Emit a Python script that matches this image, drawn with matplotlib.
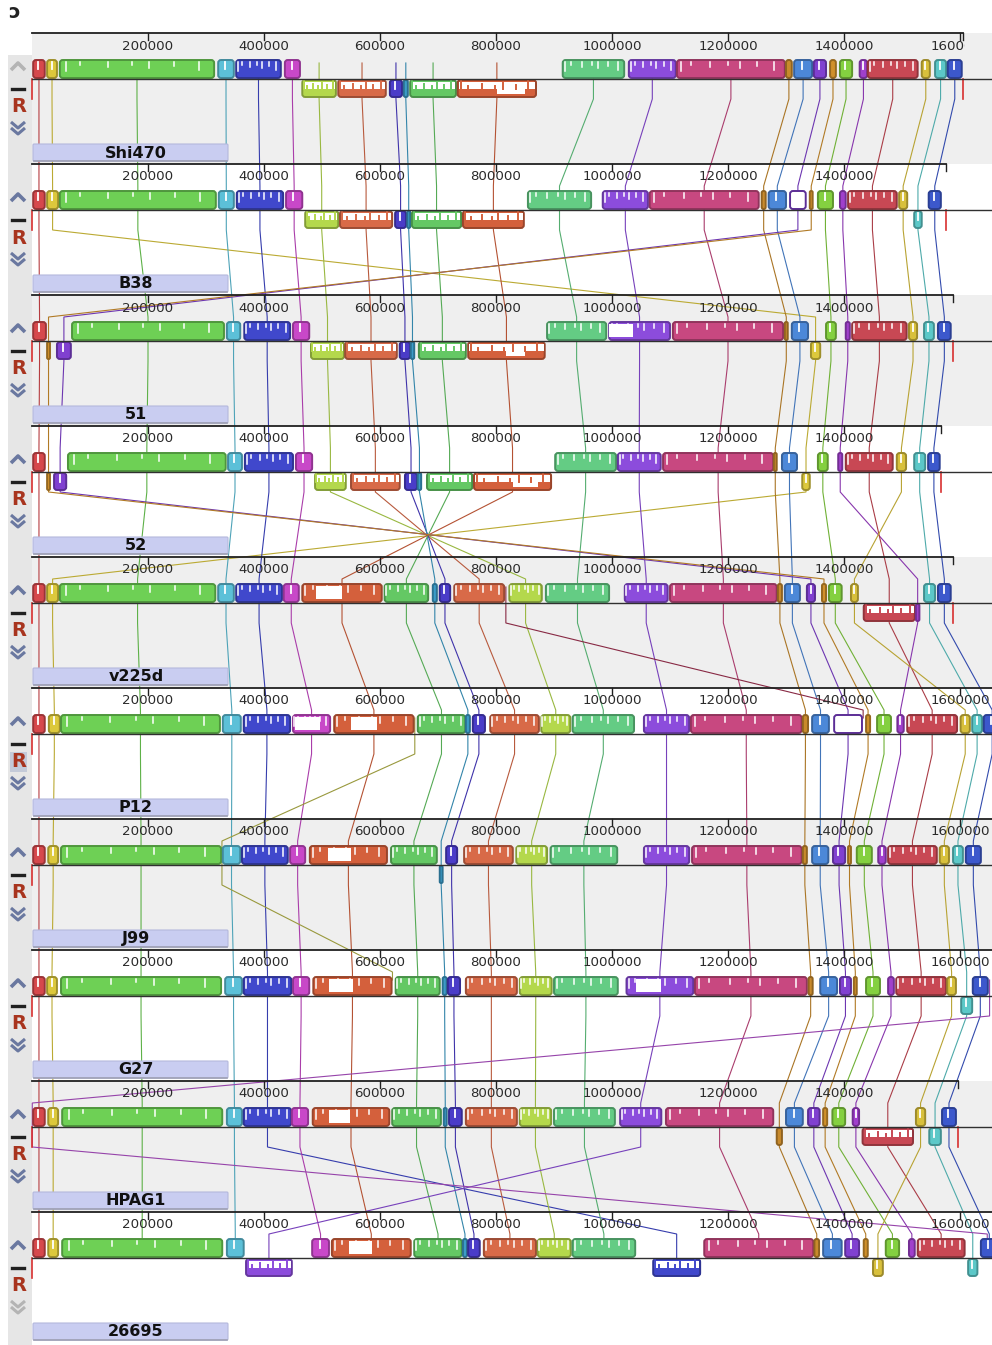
import numpy as np
import matplotlib
matplotlib.use('Agg')
import matplotlib.pyplot as plt
import matplotlib.colors as mcolors
from matplotlib.patches import FancyBboxPatch, Rectangle

# genomes, top to bottom, with their lengths in kb
GENOMES = ["Shi470", "B38", "51", "52", "v225d", "P12", "J99", "G27", "HPAG1", "26695"]
GENOME_LEN = [1605, 1576, 1588, 1567, 1588, 1700, 1700, 1700, 1596, 1700]

LCB_COLORS = {
    "r1": "#d6484c", "y1": "#dcc83c", "g1": "#6ed055", "c1": "#5cc0d8", "b1": "#4048cc",
    "m1": "#c848c8", "yg": "#b4d84c", "o1": "#d86a48", "b2": "#4a3cc8", "t1": "#3c9cc8",
    "g2": "#64c864", "o2": "#d4603c", "g3": "#64cc84", "p1": "#8c4cdc", "pk": "#c84880",
    "br1": "#c88a2c", "b3": "#4c88d8", "p2": "#8040d0", "br2": "#d0902c", "g4": "#84d040",
    "p3": "#a040cc", "r2": "#c84854", "y2": "#d8c03c", "c2": "#5cc8c8", "b4": "#3c58cc",
    "k1": "#b4b448", "dk": "#a03050", "pw": "#b050c8",
}
TINY = {"k1", "dk", "pw"}   # only their connecting lines are visible

# (lcb, start kb, end kb, strand)
SHI470 = [("r1", 2, 22, "+"), ("y1", 26, 43, "+"), ("g1", 48, 314, "+"), ("c1", 321, 348, "+"),
          ("b1", 352, 429, "+"), ("m1", 436, 462, "+"), ("yg", 466, 524, "-"), ("o1", 528, 610, "-"),
          ("b2", 617, 638, "-"), ("t1", 641, 648, "-"), ("g2", 652, 731, "-"), ("o2", 734, 869, "-"),
          ("g3", 915, 1021, "+"), ("p1", 1029, 1110, "+"), ("pk", 1112, 1298, "+"), ("br1", 1300, 1310, "+"),
          ("b3", 1314, 1345, "+"), ("p2", 1348, 1369, "+"), ("br2", 1376, 1386, "+"), ("g4", 1393, 1414, "+"),
          ("p3", 1427, 1440, "+"), ("r2", 1441, 1527, "+"), ("y2", 1534, 1548, "+"), ("c2", 1557, 1576, "+"),
          ("b4", 1579, 1603, "+")]
B38 = [("r1", 2, 22, "+"), ("y1", 26, 45, "+"), ("g1", 48, 317, "+"), ("c1", 322, 348, "+"),
       ("b1", 353, 433, "+"), ("m1", 438, 466, "+"), ("yg", 471, 528, "-"), ("o1", 531, 621, "-"),
       ("b2", 626, 645, "-"), ("t1", 647, 652, "-"), ("g2", 655, 740, "-"), ("o2", 743, 848, "-"),
       ("g3", 855, 964, "+"), ("p1", 984, 1062, "+"), ("pk", 1065, 1253, "+"), ("br1", 1258, 1265, "+"),
       ("b3", 1270, 1300, "+"), ("p2", 1307, 1334, "+"), ("br2", 1341, 1346, "+"), ("g4", 1355, 1381, "+"),
       ("p3", 1393, 1403, "+"), ("r2", 1407, 1491, "+"), ("y2", 1495, 1509, "+"), ("c2", 1521, 1534, "-"),
       ("b4", 1546, 1567, "+")]
G51 = [("r1", 2, 24, "+"), ("br2", 26, 31, "-"), ("p2", 43, 67, "-"), ("g1", 69, 331, "+"),
       ("c1", 336, 359, "+"), ("b1", 366, 445, "+"), ("m1", 450, 478, "+"), ("yg", 481, 538, "-"),
       ("o1", 540, 629, "-"), ("b2", 634, 652, "-"), ("t1", 653, 659, "-"), ("g2", 667, 748, "-"),
       ("o2", 752, 884, "-"), ("g3", 888, 990, "+"), ("p1", 995, 1100, "+"), ("pk", 1105, 1295, "+"),
       ("br1", 1298, 1303, "+"), ("b3", 1310, 1338, "+"), ("y1", 1343, 1359, "-"), ("g4", 1369, 1386, "+"),
       ("p3", 1403, 1410, "+"), ("r2", 1414, 1508, "+"), ("y2", 1512, 1526, "+"), ("c2", 1538, 1555, "+"),
       ("b4", 1562, 1584, "+")]
G52 = [("r1", 2, 22, "+"), ("br2", 26, 31, "-"), ("p2", 38, 59, "-"), ("g1", 62, 334, "+"),
       ("c1", 338, 362, "+"), ("b1", 367, 450, "+"), ("m1", 455, 483, "+"), ("yg", 488, 541, "-"),
       ("o1", 550, 634, "-"), ("b2", 643, 664, "-"), ("t1", 665, 671, "-"), ("g2", 681, 759, "-"),
       ("o2", 762, 895, "-"), ("g3", 902, 1007, "+"), ("p1", 1010, 1084, "+"), ("pk", 1088, 1278, "+"),
       ("br1", 1279, 1284, "+"), ("b3", 1293, 1319, "+"), ("y1", 1328, 1341, "-"), ("g4", 1355, 1372, "+"),
       ("p3", 1390, 1397, "+"), ("r2", 1403, 1484, "+"), ("y2", 1491, 1507, "+"), ("c2", 1521, 1540, "+"),
       ("b4", 1545, 1565, "+")]
V225D = [("r1", 2, 22, "+"), ("y1", 26, 45, "+"), ("g1", 48, 316, "+"), ("c1", 321, 348, "+"),
         ("b1", 352, 431, "+"), ("m1", 434, 460, "+"), ("o2", 466, 603, "+"), ("g2", 608, 683, "+"),
         ("t1", 691, 698, "+"), ("b2", 703, 721, "+"), ("o1", 728, 814, "+"), ("dk", 816, 818, "+"),
         ("yg", 823, 879, "+"), ("g3", 886, 995, "+"), ("p1", 1022, 1096, "+"), ("pk", 1100, 1284, "+"),
         ("br1", 1286, 1293, "+"), ("b3", 1298, 1324, "+"), ("p2", 1336, 1350, "+"), ("br2", 1362, 1369, "+"),
         ("g4", 1374, 1396, "+"), ("y2", 1412, 1424, "+"), ("r2", 1434, 1522, "-"), ("p3", 1524, 1530, "-"),
         ("c2", 1538, 1557, "+"), ("b4", 1562, 1584, "+")]
P12 = [("r1", 2, 22, "+"), ("y1", 29, 48, "+"), ("g1", 50, 324, "+"), ("c1", 329, 360, "+"),
       ("b1", 365, 445, "+"), ("m1", 450, 514, "+"), ("o2", 521, 658, "+"), ("k1", 659, 661, "+"),
       ("g2", 665, 747, "+"), ("t1", 748, 755, "+"), ("b2", 760, 781, "+"), ("o1", 790, 874, "+"),
       ("yg", 878, 928, "+"), ("g3", 932, 1038, "+"), ("p1", 1055, 1133, "+"), ("pk", 1136, 1327, "+"),
       ("br1", 1329, 1338, "+"), ("b3", 1345, 1374, "+"), ("p2", 1383, 1431, "+"), ("dk", 1432, 1434, "+"),
       ("br2", 1438, 1445, "+"), ("g4", 1457, 1481, "+"), ("p3", 1492, 1503, "+"), ("r2", 1509, 1595, "+"),
       ("y2", 1601, 1617, "+"), ("c2", 1621, 1638, "+"), ("b4", 1641, 1670, "+")]
J99 = [("r1", 2, 22, "+"), ("y1", 28, 45, "+"), ("g1", 50, 326, "+"), ("k1", 327, 328, "+"),
       ("c1", 329, 359, "+"), ("b1", 362, 441, "+"), ("m1", 445, 471, "+"), ("o2", 479, 612, "+"),
       ("g2", 619, 698, "+"), ("t1", 703, 708, "-"), ("b2", 714, 733, "+"), ("o1", 745, 829, "+"),
       ("yg", 835, 888, "+"), ("g3", 894, 1009, "+"), ("p1", 1055, 1133, "+"), ("pk", 1138, 1327, "+"),
       ("br1", 1329, 1336, "+"), ("b3", 1345, 1373, "+"), ("p2", 1381, 1402, "+"), ("br2", 1407, 1412, "+"),
       ("g4", 1422, 1448, "+"), ("p3", 1459, 1472, "+"), ("r2", 1476, 1560, "+"), ("y2", 1565, 1581, "+"),
       ("c2", 1588, 1605, "+"), ("b4", 1610, 1636, "+")]
G27 = [("r1", 2, 22, "+"), ("y1", 26, 43, "+"), ("g1", 50, 326, "+"), ("c1", 333, 362, "+"),
       ("b1", 365, 447, "+"), ("m1", 450, 478, "+"), ("o2", 485, 620, "+"), ("k1", 621, 622, "+"),
       ("g2", 627, 703, "+"), ("t1", 708, 715, "+"), ("b2", 717, 738, "+"), ("o1", 748, 836, "+"),
       ("yg", 841, 896, "+"), ("g3", 900, 1010, "+"), ("p1", 1025, 1140, "+"), ("pk", 1143, 1336, "+"),
       ("br1", 1339, 1346, "+"), ("b3", 1359, 1388, "+"), ("p2", 1393, 1412, "+"), ("br2", 1417, 1422, "+"),
       ("g4", 1438, 1462, "+"), ("p3", 1476, 1486, "+"), ("r2", 1490, 1576, "+"), ("y2", 1578, 1593, "+"),
       ("c2", 1602, 1621, "-"), ("b4", 1622, 1648, "+"), ("pw", 1650, 1652, "+")]
HPAG1 = [("pw", 0, 1, "+"), ("r1", 2, 22, "+"), ("y1", 28, 45, "+"), ("g1", 52, 328, "+"),
         ("c1", 336, 362, "+"), ("b1", 365, 447, "+"), ("m1", 448, 476, "+"), ("o2", 484, 616, "+"),
         ("g2", 621, 705, "+"), ("t1", 710, 715, "+"), ("b2", 719, 741, "+"), ("o1", 748, 836, "+"),
         ("yg", 841, 895, "+"), ("g3", 900, 1005, "+"), ("p1", 1014, 1085, "+"), ("pk", 1093, 1278, "+"),
         ("br1", 1284, 1293, "-"), ("b3", 1300, 1329, "+"), ("p2", 1338, 1358, "+"), ("br2", 1364, 1371, "+"),
         ("g4", 1380, 1402, "+"), ("p3", 1415, 1426, "+"), ("r2", 1432, 1519, "-"), ("y2", 1524, 1540, "+"),
         ("c2", 1547, 1567, "-"), ("b4", 1569, 1593, "+")]
G26695 = [("r1", 2, 22, "+"), ("y1", 28, 45, "+"), ("g1", 52, 328, "+"), ("c1", 336, 365, "+"),
          ("p1", 369, 448, "-"), ("m1", 483, 512, "+"), ("o2", 517, 653, "+"), ("g2", 659, 741, "+"),
          ("t1", 743, 750, "+"), ("b2", 752, 772, "+"), ("o1", 779, 869, "+"), ("yg", 872, 929, "+"),
          ("g3", 932, 1040, "+"), ("b1", 1071, 1152, "-"), ("pk", 1159, 1347, "+"), ("br1", 1349, 1357, "+"),
          ("b3", 1364, 1396, "+"), ("p2", 1402, 1426, "+"), ("br2", 1434, 1441, "+"), ("y2", 1450, 1467, "-"),
          ("g4", 1472, 1495, "+"), ("p3", 1512, 1522, "+"), ("r2", 1527, 1608, "+"), ("c2", 1614, 1630, "-"),
          ("b4", 1636, 1665, "+"), ("pw", 1646, 1648, "+")]
GENOME_BLOCKS = [SHI470, B38, G51, G52, V225D, P12, J99, G27, HPAG1, G26695]

# low-similarity (white) stretches inside blocks, kb
WHITE_GAPS = {
    (0, "o2"): (801, 850), (2, "o2"): (817, 850), (2, "p1"): (995, 1036), (3, "o2"): (829, 872),
    (4, "o2"): (490, 534), (5, "m1"): (453, 496), (5, "o2"): (550, 595), (6, "o2"): (510, 550),
    (7, "o2"): (512, 553), (7, "p1"): (1041, 1085), (8, "o2"): (512, 548), (9, "o2"): (547, 586),
}
HOLLOW = {(1, "p2"), (5, "p2")}

# ---- layout in pixels ----
FIG_W, FIG_H = 992, 1345
PX_PER_KB = 0.58
X0 = 32
TOP0 = 33
PANEL_H = 131


def xk(px):
    return (px - X0) / PX_PER_KB


def yu(i, off):
    return i + off / PANEL_H


def darker(c, f):
    r, g, b = mcolors.to_rgb(c)
    return (r * f, g * f, b * f)


NOTCH_FRAC = [0.04, 0.13, 0.31, 0.47, 0.58, 0.74, 0.9]
NOTCH_DEPTH = [9, 3, 5, 3, 6, 4, 8]
ASPECT = (1 / PANEL_H) / (1 / PX_PER_KB)

fig = plt.figure(figsize=(FIG_W / 100, FIG_H / 100), dpi=100)
ax = fig.add_axes([0, 0, 1, 1])
ax.set_xlim(xk(0), xk(FIG_W))
ax.set_ylim((FIG_H - TOP0) / PANEL_H, -TOP0 / PANEL_H)
ax.axis('off')

# backgrounds
ax.add_patch(Rectangle((xk(8), yu(0, 22)), xk(32) - xk(8), 10, color='#e6e6e6', zorder=0, lw=0))
for i in range(len(GENOMES)):
    if i % 2 == 0:
        ax.add_patch(Rectangle((xk(32), i), xk(FIG_W) - xk(32), 1, color='#efefef', zorder=0, lw=0))

ax.text(xk(14), yu(0, -21), "ɔ", fontsize=14, fontweight='bold', ha='center', va='center', color='#222')

# connecting lines of each LCB through the genomes
for lcb, col in LCB_COLORS.items():
    pres = []
    for gi, blocks in enumerate(GENOME_BLOCKS):
        for b in blocks:
            if b[0] == lcb:
                pres.append((gi, (b[1] + b[2]) / 2, b[3]))
    if len(pres) < 2:
        continue
    xs, ys = [], []
    for k, (gi, c, s) in enumerate(pres):
        xs.append(c)
        ys.append(yu(gi, 30 if k == 0 else 22))
        xs.append(c)
        if k < len(pres) - 1:
            ys.append(yu(gi, 66))
        else:
            ys.append(yu(gi, 30 if s == '+' else 50))
    ax.plot(xs, ys, color=darker(col, 0.85), lw=0.8, zorder=2, solid_joinstyle='miter')

for i, (name, blocks) in enumerate(zip(GENOMES, GENOME_BLOCKS)):
    L = GENOME_LEN[i]
    # ruler
    ax.plot([0, L], [i, i], color='#202020', lw=1.3, zorder=4)
    clip = Rectangle((xk(20), i - 0.05), L + 4 - xk(20), 0.3, transform=ax.transData)
    for t in range(200, L + 1, 200):
        ax.plot([t, t], [i, yu(i, 7)], color='#202020', lw=1.0, zorder=4)
        txt = ax.text(t, yu(i, 13), f"{t * 1000}", ha='center', va='center', fontsize=9.6,
                      color='#2a2a2a', zorder=5, clip_on=True)
        txt.set_clip_path(clip)
    ax.plot([L, L], [i, yu(i, 7)], color='#202020', lw=1.0, zorder=4)
    # centre line
    ax.plot([0, xk(FIG_W)], [yu(i, 46), yu(i, 46)], color='#303030', lw=1.0, zorder=4)
    # genome end markers
    ax.plot([0, 0], [yu(i, 46), yu(i, 66)], color='#d83030', lw=1.2, zorder=3)
    ax.plot([L, L], [yu(i, 46), yu(i, 66)], color='#d83030', lw=1.2, zorder=3)

    for lcb, s, e, strand in blocks:
        if lcb in TINY:
            continue
        col = LCB_COLORS[lcb]
        y0 = yu(i, 27) if strand == '+' else yu(i, 47)
        h = 18 / PANEL_H if strand == '+' else 17 / PANEL_H
        hollow = (i, lcb) in HOLLOW
        box = FancyBboxPatch((s, y0), e - s, h,
                             boxstyle="round,pad=0,rounding_size=%.2f" % min(5.0, (e - s) / 2.2),
                             mutation_aspect=ASPECT, fc='white' if hollow else col,
                             ec=darker(col, 0.72), lw=1.4, zorder=3)
        ax.add_patch(box)
        w = e - s
        if hollow:
            continue
        inner_top = y0 + 2 / PANEL_H
        if strand == '-' and w > 40:
            band = h * 0.42
            ax.add_patch(Rectangle((s + 2, inner_top), w - 4, band, color='white', lw=0, zorder=3.1))
            for f, d in zip(NOTCH_FRAC, NOTCH_DEPTH):
                ax.plot([s + f * w, s + f * w], [inner_top + band, inner_top + band - d / PANEL_H],
                        color=col, lw=1.4, zorder=3.2)
        elif w > 40:
            for f, d in zip(NOTCH_FRAC, NOTCH_DEPTH):
                ax.plot([s + f * w, s + f * w], [inner_top, inner_top + d / PANEL_H],
                        color='white', lw=1.1, zorder=3.2)
        elif w > 10:
            ax.plot([s + 0.45 * w, s + 0.45 * w], [inner_top, inner_top + 7 / PANEL_H],
                    color='white', lw=1.3, zorder=3.2)
        if (i, lcb) in WHITE_GAPS:
            ws, we = WHITE_GAPS[(i, lcb)]
            ax.add_patch(Rectangle((ws, inner_top), we - ws, h - 5 / PANEL_H, color='white', lw=0, zorder=3.1))

    # name label
    lab = FancyBboxPatch((xk(33), yu(i, 111)), xk(228) - xk(33), 17 / PANEL_H,
                         boxstyle="round,pad=0,rounding_size=2", mutation_aspect=ASPECT,
                         fc='#c9cdf1', ec='#b4b8dc', lw=0.8, zorder=4)
    ax.add_patch(lab)
    ax.plot([xk(34), xk(227)], [yu(i, 128.5), yu(i, 128.5)], color='#9ea0b4', lw=1.2, zorder=4)
    ax.text(xk(136), yu(i, 120), name, ha='center', va='center', fontsize=11.5,
            fontweight='bold', color='#111', zorder=5)

    # left controls
    up_col = '#b4b4b4' if i == 0 else '#6a78a0'
    dn_col = '#b4b4b4' if i == len(GENOMES) - 1 else '#6a78a0'
    ax.plot([xk(11), xk(18), xk(25)], [yu(i, 37), yu(i, 30), yu(i, 37)], color=up_col, lw=2.6,
            zorder=5, solid_capstyle='butt')
    ax.plot([xk(12), xk(24)], [yu(i, 56), yu(i, 56)], color='#202020', lw=2.4, zorder=5)
    if i == 5:
        ax.add_patch(Rectangle((xk(10), yu(i, 64)), xk(27) - xk(10), 20 / PANEL_H, color='#c4cad8',
                               lw=0, zorder=4))
    ax.text(xk(18.5), yu(i, 74), "R", ha='center', va='center', fontsize=14, fontweight='bold',
            color='#a8341e', zorder=5)
    for off in (89, 95):
        ax.plot([xk(11), xk(18), xk(25)], [yu(i, off), yu(i, off + 6), yu(i, off)], color=dn_col,
                lw=2.2, zorder=5, solid_capstyle='butt')

fig.savefig('out.png', dpi=100)
